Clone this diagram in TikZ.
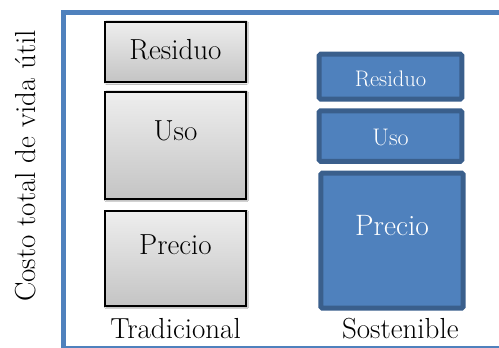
\documentclass[tikz,border=0pt]{standalone}
\usetikzlibrary{shadows.blur}
\definecolor{frameblue}{HTML}{4F81BD}
\definecolor{boxblue}{HTML}{4F81BD}
\definecolor{boxedge}{HTML}{3A5F8C}
\definecolor{graytop}{HTML}{EEEEEE}
\definecolor{graybot}{HTML}{C4C4C4}
\tikzset{
  tradbox/.style={draw=black, line width=2pt, top color=graytop, bottom color=graybot,
    blur shadow={shadow xshift=1pt, shadow yshift=-1pt, shadow blur steps=6, shadow opacity=35}},
  sostbox/.style={draw=boxedge, line width=5pt, fill=boxblue, rounded corners=1.5pt},
  bigtext/.style={font=\fontsize{29}{31}\selectfont, text=black, anchor=base, inner sep=0pt},
  whitetext/.style={font=\fontsize{#1}{#1}\selectfont, text=white, anchor=base, inner sep=0pt},
}
\begin{document}
\begin{tikzpicture}[x=1pt, y=-1pt]
\useasboundingbox (0,0) rectangle (499,348);
\fill[white] (0,0) rectangle (499,348);
% frame
\draw[frameblue, line width=5pt] (63.5,348) -- (63.5,12) -- (500,12);
\draw[frameblue, line width=1.6pt] (61,346.8) -- (500,346.8);
% traditional column
\draw[tradbox] (105,21.7) rectangle (246,81.7) node[midway, inner sep=0pt] (tres) {};
\draw[tradbox] (105,91.7) rectangle (246,199) node[midway, inner sep=0pt] (tuso) {};
\draw[tradbox] (105,211) rectangle (246,306) node[midway, inner sep=0pt] (tpre) {};
\node[bigtext] (tresl) at (175.5,59.3) {Residuo};
\node[bigtext] (tusol) at (175.5,140) {Uso};
\node[bigtext] (tprel) at (175.5,254) {Precio};
\node[bigtext] (tcap) at (175.5,338) {Tradicional};
% sustainable column
\draw[sostbox] (319.2,54.2) rectangle (461.8,99) node[midway, inner sep=0pt] (sres) {};
\draw[sostbox] (319.2,110.8) rectangle (461.8,161.3) node[midway, inner sep=0pt] (suso) {};
\draw[sostbox] (320.8,173.2) rectangle (463.2,308.2) node[midway, inner sep=0pt] (spre) {};
\node[whitetext=22.5] (sresl) at (390.5,86) {Residuo};
\node[whitetext=24] (susol) at (390.5,145) {Uso};
\node[whitetext=29.5] (sprel) at (392,235) {Precio};
\node[bigtext] (scap) at (400.3,338) {Sostenible};
% vertical axis label
\node[bigtext, rotate=90] (ylab) at (35,166) {Costo total de vida útil};
\end{tikzpicture}
\end{document}
